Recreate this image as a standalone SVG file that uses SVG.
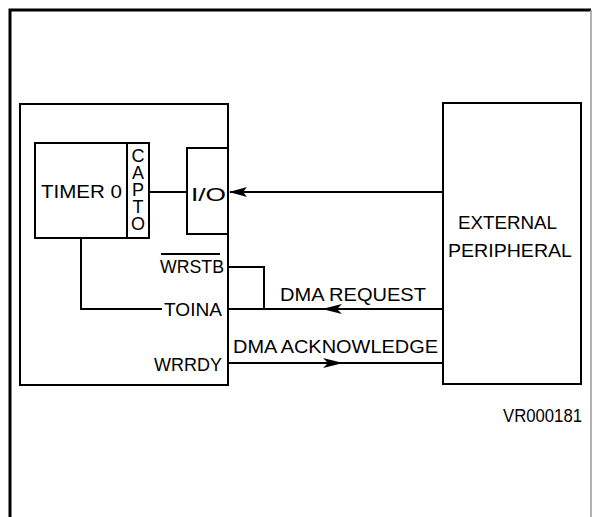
<svg xmlns="http://www.w3.org/2000/svg" width="593" height="517" viewBox="0 0 593 517">
<defs>
<style>
.ln{fill:none;stroke:#000;stroke-width:2}
.bx{fill:#fff;stroke:#000;stroke-width:2}
.t{font-family:"Liberation Sans",Arial,sans-serif;font-size:19px;fill:#000}
.ah{fill:#000;stroke:none}
.v{writing-mode:vertical-lr;text-orientation:upright;font-size:18px}
</style>
</defs>
<rect width="593" height="517" fill="#fff"/>
<g id="frame">
<path d="M10,530 V10 H591" fill="none" stroke="#000" stroke-width="3"/>
<path d="M591,10 V530" fill="none" stroke="#999" stroke-width="1.5"/>
</g>
<g id="device">
<rect class="bx" x="20" y="104" width="208" height="281"/>
<text class="t" x="160" y="273" textLength="64" lengthAdjust="spacingAndGlyphs">WRSTB</text>
<path class="ln" d="M161,254 H220" stroke-width="1.5"/>
<text class="t" x="164" y="316" textLength="58" lengthAdjust="spacingAndGlyphs">TOINA</text>
<text class="t" x="154" y="371" textLength="68" lengthAdjust="spacingAndGlyphs">WRRDY</text>
</g>
<g id="timer0">
<rect class="bx" x="35" y="143" width="114" height="95"/>
<path class="ln" d="M127,143 V238"/>
<text class="t" x="41" y="198" textLength="81" lengthAdjust="spacingAndGlyphs">TIMER 0</text>
<text class="t v" x="138" y="146" textLength="88" lengthAdjust="spacing">CAPTO</text>
</g>
<g id="io">
<rect class="bx" x="187" y="148" width="41" height="86"/>
<text class="t" x="191" y="201" textLength="35" lengthAdjust="spacingAndGlyphs">I/O</text>
</g>
<g id="peripheral">
<rect class="bx" x="443" y="103" width="138" height="281"/>
<text class="t" x="458" y="229" textLength="99" lengthAdjust="spacingAndGlyphs">EXTERNAL</text>
<text class="t" x="448" y="257" textLength="124" lengthAdjust="spacingAndGlyphs">PERIPHERAL</text>
</g>
<g id="connectors">
<path class="ln" d="M149,192 H187"/>
<path class="ln" d="M443,192 H230"/>
<path class="ah" d="M229,192 L247,187 L243,192 L247,197 Z"/>
<path class="ln" d="M81,238 V309 H162"/>
<path class="ln" d="M228,267 H264 V309"/>
<path class="ln" d="M228,309 H443"/>
<path class="ah" d="M322,309 L342,304 L337,309 L342,314 Z"/>
<path class="ln" d="M228,363 H443"/>
<path class="ah" d="M343,363 L323,358 L328,363 L323,368 Z"/>
<text class="t" x="280" y="301" textLength="146" lengthAdjust="spacingAndGlyphs">DMA REQUEST</text>
<text class="t" x="233" y="353" textLength="205" lengthAdjust="spacingAndGlyphs">DMA ACKNOWLEDGE</text>
</g>
<text class="t" x="503" y="422" textLength="79" lengthAdjust="spacingAndGlyphs" font-size="16">VR000181</text>
</svg>
